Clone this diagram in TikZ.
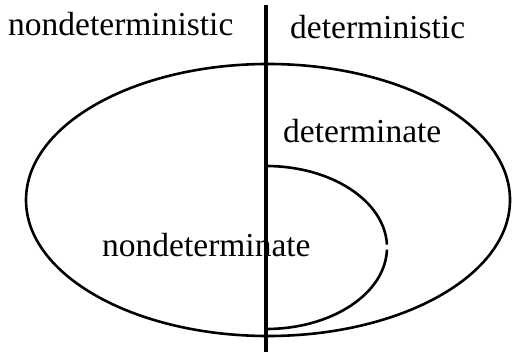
\documentclass[tikz,border=0pt]{standalone}
\usepackage{fontspec}
\setmainfont{Liberation Serif}
\usetikzlibrary{positioning}
\tikzset{
  % Region labels
  regionlabel/.style={
    anchor=base west, inner sep=0pt, text=black,
    font=\fontsize{33.5}{40}\selectfont,
  },
  % Outlines
  divider/.style={draw=black, line width=3.2pt},
  outline/.style={draw=black, line width=2.6pt},
}
\begin{document}
\begin{tikzpicture}[x=1pt, y=-1pt]

  \useasboundingbox (0,0) rectangle (513,352);

  % Outer set
  \draw[outline] (268,200) ellipse[x radius=242, y radius=136];

  % Inner set (right half only)
  \coordinate (innertop) at (266,166);
  \draw[outline] (innertop) arc[start angle=-90, end angle=-2, x radius=121, y radius=81.5];
  \draw[outline] (266,247.5) ++(1.5:121 and 81.5)
    arc[start angle=1.5, end angle=90, x radius=121, y radius=81.5] coordinate (innerbot);

  % Dividing line
  \coordinate (linetop) at (266,5);
  \coordinate (linebot) at (266,352);
  \draw[divider] (linetop) -- (linebot);

  % Labels
  \node[regionlabel] (nondetistic) at (8,36) {nondeterministic};
  \node[regionlabel] (detistic) at (290,39) {deterministic};
  \node[regionlabel] (detate) at (283,143) {determinate};
  \node[regionlabel] (nondetate) at (102,257) {nondeterminate};

\end{tikzpicture}
\end{document}
